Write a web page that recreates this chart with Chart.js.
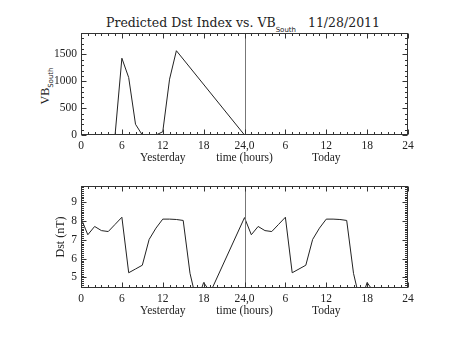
<!DOCTYPE html>
<html>
<head>
<meta charset="utf-8">
<script src="https://cdn.jsdelivr.net/npm/chart.js@4/dist/chart.umd.min.js"></script>
<style>
body { margin:0; background:#fff; width:453px; height:340px; position:relative; overflow:hidden; font-family:"Liberation Serif",serif; color:#222; }
.panel { position:absolute; left:0; width:453px; height:170px; }
#title { position:absolute; top:16px; left:243px; transform:translateX(-50%); font-family:"DejaVu Serif",serif; font-size:12.5px; line-height:14px; white-space:pre; }
#title sub { font-family:"DejaVu Sans",sans-serif; font-size:7px; line-height:0; vertical-align:-5px; }
#vbTitle { position:absolute; left:45px; top:86px; transform:translate(-50%,-50%) rotate(-90deg); font-size:12px; line-height:14px; white-space:nowrap; }
#vbTitle sub { font-family:"DejaVu Sans",sans-serif; font-size:7px; line-height:0; vertical-align:-4px; }
</style>
</head>
<body>
<div id="title">Predicted Dst Index vs. VB<sub>South</sub>   11/28/2011</div>
<div id="vbTitle">VB<sub>South</sub></div>
<div class="panel" style="top:0"><canvas id="vbChart" width="453" height="170"></canvas></div>
<div class="panel" style="top:170px"><canvas id="dstChart" width="453" height="170"></canvas></div>
<script>
// hours run 0..24 yesterday, 24..48 today
const xTickHours = [0, 6, 12, 18, 24, 30, 36, 42, 48];
const xTickLabels = ['0', '6', '12', '18', '24,0', '6', '12', '18', '24'];
const xDayLabels = ['', '', 'Yesterday', '', 'time (hours)', '', 'Today', '', ''];

// VB south (top panel)
const vbHours  = [0, 1, 2, 3, 4, 5, 6, 7, 8, 9, 10, 11, 12, 13, 14, 24];
const vbValues = [0, 0, 0, 0, 0, 0, 1430, 1070, 200, 0, 0, 0, 60, 1040, 1570, 0];
const vbTicks = [0, 500, 1000, 1500];

// Dst (bottom panel)
const dstHours  = [0, 1, 2, 3, 4, 5, 6, 7, 8, 9, 10, 11, 12, 13, 14, 15, 16, 17, 18, 19,
                   24, 25, 26, 27, 28, 29, 30, 31, 32, 33, 34, 35, 36, 37, 38, 39, 40, 41, 42, 43];
const dstValues = [8.15, 7.27, 7.71, 7.49, 7.44, 7.82, 8.2, 5.25, 5.45, 5.65, 7.02, 7.62, 8.1, 8.1, 8.08, 8.03, 5.22, 3.68, 4.73, 4.22,
                   8.18, 7.27, 7.71, 7.49, 7.44, 7.82, 8.2, 5.25, 5.45, 5.65, 7.02, 7.62, 8.1, 8.1, 8.08, 8.03, 5.22, 3.68, 4.73, 4.22];
const dstTicks = [5, 6, 7, 8, 9];

const ink = '#222';
const tickFont = { family: 'Liberation Serif', size: 11.5, lineHeight: 1.05 };

// IDL style frame: box, inward ticks, day boundary line
const idlFrame = {
  id: 'idlFrame',
  afterDatasetsDraw(chart, args, opts) {
    const { ctx, chartArea: a, scales: { x, y } } = chart;
    const L = Math.round(a.left) + 0.5, R = Math.round(a.right) - 0.5;
    const T = Math.round(a.top) + 0.5, B = Math.round(a.bottom) - 0.5;
    ctx.save();
    ctx.lineWidth = 1;
    // day boundary
    ctx.strokeStyle = '#777';
    const xd = Math.round(x.getPixelForValue(24)) + 0.5;
    ctx.beginPath();
    ctx.moveTo(xd, T); ctx.lineTo(xd, B);
    ctx.stroke();
    ctx.strokeStyle = '#333';
    ctx.beginPath();
    // x ticks every hour
    for (let h = 0; h <= 48; h++) {
      const len = h % 6 === 0 ? 5 : 2.5;
      const px = Math.round(x.getPixelForValue(h)) + 0.5;
      ctx.moveTo(px, B); ctx.lineTo(px, B - len);
      ctx.moveTo(px, T); ctx.lineTo(px, T + len);
    }
    // y ticks
    const k0 = Math.ceil(y.min / opts.minor - 1e-9), k1 = Math.floor(y.max / opts.minor + 1e-9);
    for (let k = k0; k <= k1; k++) {
      const v = k * opts.minor;
      const major = opts.major.some(m => Math.abs(m - v) < 1e-6);
      const len = major ? 5 : 2.5;
      const py = Math.round(y.getPixelForValue(v)) + 0.5;
      ctx.moveTo(L, py); ctx.lineTo(L + len, py);
      ctx.moveTo(R, py); ctx.lineTo(R - len, py);
    }
    ctx.stroke();
    ctx.strokeRect(L, T, R - L, B - T);
    ctx.restore();
  }
};

function makeChart(id, hours, values, yMin, yMax, yTicks, yMinor, padding, yWidth, yTitle) {
  return new Chart(document.getElementById(id), {
    type: 'line',
    data: {
      datasets: [{
        data: hours.map((h, i) => ({ x: h, y: values[i] })),
        borderColor: '#222',
        borderWidth: 1,
        pointRadius: 0,
        tension: 0,
        fill: false
      }]
    },
    options: {
      responsive: false,
      animation: false,
      devicePixelRatio: 1,
      layout: { padding: padding },
      plugins: {
        legend: { display: false },
        tooltip: { enabled: false },
        idlFrame: { minor: yMinor, major: yTicks }
      },
      scales: {
        x: {
          type: 'linear', min: 0, max: 48,
          grid: { display: false, drawTicks: false },
          border: { display: false },
          afterBuildTicks: s => { s.ticks = xTickHours.map(v => ({ value: v })); },
          afterFit: s => { s.height = 35; },
          ticks: {
            autoSkip: false, maxRotation: 0, padding: 5, color: ink, font: tickFont,
            callback: (v, i) => [xTickLabels[i], xDayLabels[i]]
          }
        },
        y: {
          min: yMin, max: yMax,
          grid: { display: false, drawTicks: false },
          border: { display: false },
          afterBuildTicks: s => { s.ticks = yTicks.map(v => ({ value: v })); },
          afterFit: s => { s.width = yWidth; },
          ticks: { padding: 4, color: ink, font: tickFont, callback: v => String(v) },
          title: yTitle ? { display: true, text: yTitle, color: ink, padding: 0,
                            font: { family: 'Liberation Serif', size: 12 } } : { display: false }
        }
      }
    },
    plugins: [idlFrame]
  });
}

makeChart('vbChart', vbHours, vbValues, 0, 1900, vbTicks, 100,
          { left: 0, right: 45, top: 33, bottom: 0 }, 81, null);
makeChart('dstChart', dstHours, dstValues, 4.44, 9.86, dstTicks, 0.1,
          { left: 54, right: 45, top: 16, bottom: 17 }, 27, 'Dst (nT)');
</script>
</body>
</html>
